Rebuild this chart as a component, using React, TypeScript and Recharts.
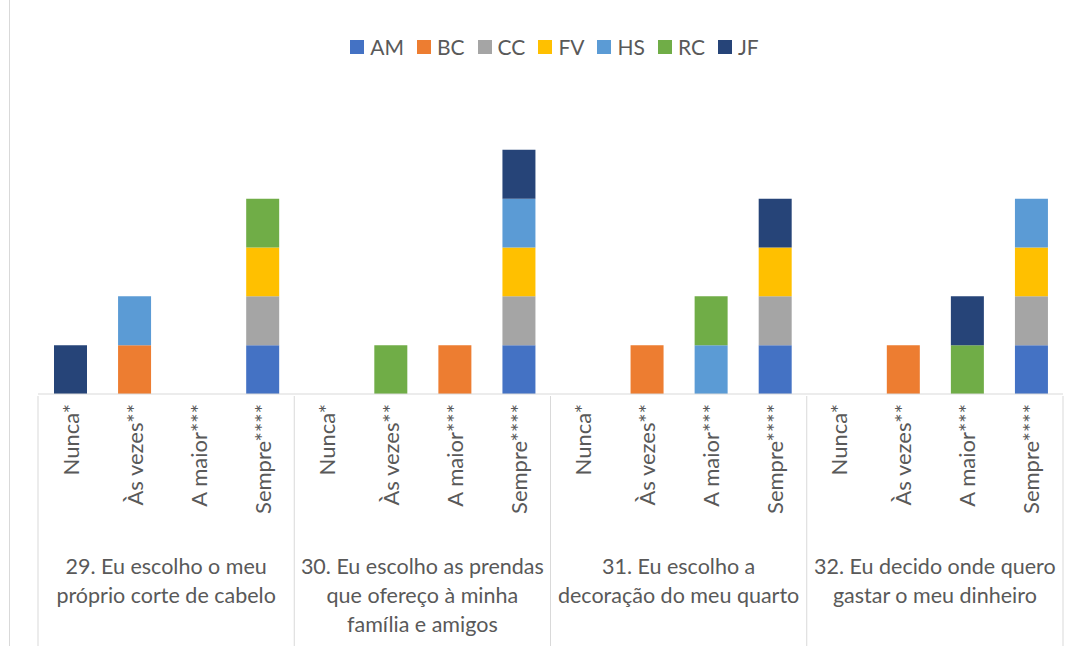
import React from "react";
import { Bar, BarChart, Legend, XAxis, YAxis } from "recharts";

const answers = ["Nunca*", "Às vezes**", "A maior***", "Sempre****"];
const groupIds = ["29", "30", "31", "32"];
const groupLabels = [
  ["29. Eu escolho o meu", "próprio corte de cabelo"],
  ["30. Eu escolho as prendas", "que ofereço à minha", "família e amigos"],
  ["31. Eu escolho a", "decoração do meu quarto"],
  ["32. Eu decido onde quero", "gastar o meu dinheiro"]
];

const seriesNames = ["AM", "BC", "CC", "FV", "HS", "RC", "JF"];
const seriesColors = ["#4472C4", "#ED7D31", "#A5A5A5", "#FFC000", "#5B9BD5", "#70AD47", "#264478"];

// one value per answer, groups 29..32 in order
const AM = [0, 0, 0, 1, 0, 0, 0, 1, 0, 0, 0, 1, 0, 0, 0, 1];
const BC = [0, 1, 0, 0, 0, 0, 1, 0, 0, 1, 0, 0, 0, 1, 0, 0];
const CC = [0, 0, 0, 1, 0, 0, 0, 1, 0, 0, 0, 1, 0, 0, 0, 1];
const FV = [0, 0, 0, 1, 0, 0, 0, 1, 0, 0, 0, 1, 0, 0, 0, 1];
const HS = [0, 1, 0, 0, 0, 0, 0, 1, 0, 0, 1, 0, 0, 0, 0, 1];
const RC = [0, 0, 0, 1, 0, 1, 0, 0, 0, 0, 1, 0, 0, 0, 1, 0];
const JF = [1, 0, 0, 0, 0, 0, 0, 1, 0, 0, 0, 1, 0, 0, 1, 0];
const seriesValues = [AM, BC, CC, FV, HS, RC, JF];

const W = 1081;
const H = 646;
const M_LEFT = 38;
const M_RIGHT = 18;
const GROUP_HALF = (W - M_LEFT - M_RIGHT) / groupIds.length / 2;
const FONT = "Lato, 'Open Sans', sans-serif";
const TEXT = "#595959";
const LINE = "#D9D9D9";

const data = groupIds.flatMap((g, gi) =>
  answers.map((a, ai) => {
    const row: Record<string, string | number> = { answer: a, group: g };
    seriesNames.forEach((s, si) => {
      row[s] = seriesValues[si][gi * answers.length + ai];
    });
    return row;
  })
);

const AnswerTick = (props: any) => {
  const { x, y, payload } = props;
  const ty = y + 8;
  return (
    <text
      x={x}
      y={ty}
      transform={`rotate(-90, ${x}, ${ty})`}
      textAnchor="end"
      dominantBaseline="central"
      fill={TEXT}
      fontSize={22}
      fontFamily={FONT}
    >
      {payload.value}
    </text>
  );
};

const GroupTick = (props: any) => {
  const { x, y, payload } = props;
  const idx = groupIds.indexOf(String(payload.value));
  const lines = groupLabels[idx] || [];
  return (
    <g>
      <line x1={x - GROUP_HALF} x2={x - GROUP_HALF} y1={y - 152} y2={H} stroke={LINE} strokeWidth={1} />
      {idx === groupIds.length - 1 ? (
        <line x1={x + GROUP_HALF} x2={x + GROUP_HALF} y1={y - 152} y2={H} stroke={LINE} strokeWidth={1} />
      ) : null}
      <text x={x} y={y + 26} textAnchor="middle" fill={TEXT} fontSize={21.5} fontFamily={FONT}>
        {lines.map((l, i) => (
          <tspan key={i} x={x} dy={i === 0 ? 0 : 29}>
            {l}
          </tspan>
        ))}
      </text>
    </g>
  );
};

const LegendContent = () => (
  <div style={{ display: "flex", justifyContent: "center", gap: 13, fontFamily: FONT, fontSize: 21, color: TEXT, paddingLeft: 8 }}>
    {seriesNames.map((s, i) => (
      <div key={s} style={{ display: "flex", alignItems: "center", gap: 6 }}>
        <span style={{ width: 14, height: 14, background: seriesColors[i], display: "inline-block" }} />
        <span>{s}</span>
      </div>
    ))}
  </div>
);

export default function App() {
  return (
    <div style={{ position: "absolute", left: 0, top: 0, width: W, height: H, background: "#fff", overflow: "hidden" }}>
      <div style={{ position: "absolute", left: 9, top: 0, width: 1, height: H, background: LINE }} />
      <BarChart
        width={W}
        height={H}
        data={data}
        margin={{ top: 76, right: M_RIGHT, left: M_LEFT, bottom: 0 }}
        barSize={33}
      >
        <Legend verticalAlign="top" content={<LegendContent />} wrapperStyle={{ top: 34 }} />
        <YAxis hide domain={[0, 6]} />
        <XAxis
          dataKey="answer"
          interval={0}
          tickLine={false}
          tickSize={0}
          axisLine={{ stroke: LINE }}
          height={152}
          tick={<AnswerTick />}
        />
        <XAxis
          xAxisId="group"
          dataKey="group"
          allowDuplicatedCategory={false}
          interval={0}
          tickLine={false}
          tickSize={0}
          axisLine={false}
          height={100}
          tick={<GroupTick />}
        />
        {seriesNames.map((s, i) => (
          <Bar key={s} dataKey={s} stackId="a" fill={seriesColors[i]} isAnimationActive={false} />
        ))}
      </BarChart>
    </div>
  );
}
